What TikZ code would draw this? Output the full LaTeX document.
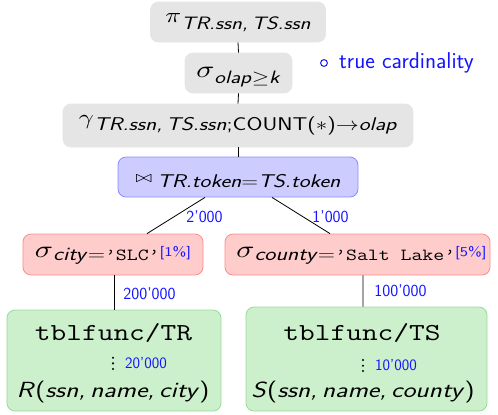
\documentclass[tikz,border=0pt]{standalone}
\usepackage{graphicx}
\usetikzlibrary{calc}

\definecolor{opgray}{RGB}{229,229,229}
\definecolor{joinfill}{RGB}{204,204,255}
\definecolor{joinline}{RGB}{140,140,255}
\definecolor{selfill}{RGB}{255,204,204}
\definecolor{selline}{RGB}{255,140,140}
\definecolor{scanfill}{RGB}{204,240,204}
\definecolor{scanline}{RGB}{150,220,150}
\definecolor{cardblue}{RGB}{20,20,255}

% operator text is set a little wider than the font's own proportions
\newcommand\stretchx[1]{\scalebox{1.25}[1]{#1}}
\newcommand\fsz[1]{\fontsize{#1}{#1}\selectfont}
\newcommand\sfit[1]{\textsf{\textit{#1}}}
% a math symbol set at 10pt and scaled by a factor
\newcommand\msym[2]{\scalebox{#1}{\fontsize{10}{12}\selectfont$#2$}}

\tikzset{
  opbase/.style={rounded corners=8bp, inner xsep=0pt, inner ysep=0pt, line width=0.8bp},
  opbox/.style={opbase, fill=opgray, draw=opgray},
  joinbox/.style={opbase, fill=joinfill, draw=joinline},
  selbox/.style={opbase, fill=selfill, draw=selline},
  scanbox/.style={opbase, fill=scanfill, draw=scanline},
  link/.style={draw=black, line width=0.8bp},
  card/.style={text=cardblue, font=\fsz{17}\sffamily, inner sep=0pt},
  plain/.style={inner sep=0pt, anchor=base},
  rowdot/.style={fill=black}
}

\begin{document}
\begin{tikzpicture}[x=1bp, y=-1bp]
\useasboundingbox (0,0) rectangle (498,414);

% operator boxes
\node[opbox, minimum width=175bp, minimum height=40bp, text height=5bp, text depth=5bp]
  (proj) at (238,22)
  {\stretchx{\msym{2.1}{\pi}\raisebox{-7.7bp}{\fsz{18}\sfit{TR.ssn,\,TS.ssn}}}};

\node[opbox, minimum width=107bp, minimum height=40bp, text height=10bp, text depth=2bp]
  (having) at (238.5,73)
  {\stretchx{\msym{2.4}{\sigma}\raisebox{-6bp}{\fsz{18}\sfit{olap}\msym{1.8}{\geq}\sfit{k}}}};

\node[opbox, minimum width=350bp, minimum height=43bp, text height=2bp, text depth=5bp]
  (group) at (238,125.5)
  {\stretchx{\msym{2.1}{\gamma}\raisebox{-6bp}{\fsz{18.5}\sfit{TR.ssn,\,TS.ssn}\textsf{;COUNT(}\msym{1.85}{\ast}\textsf{)}\msym{1.85}{\rightarrow}\sfit{olap}}}};

\node[joinbox, minimum width=240bp, minimum height=40bp, text height=12bp, text depth=2bp]
  (join) at (238,177)
  {\stretchx{\msym{1.6}{\bowtie}\hspace{4bp}\raisebox{-5bp}{\fsz{18.5}\sfit{TR.token}\textsf{=}\sfit{TS.token}}}};

\node[selbox, minimum width=180bp, minimum height=41bp, text height=8bp, text depth=2bp]
  (selcity) at (113,254.5)
  {\stretchx{\msym{2.4}{\sigma}\raisebox{-3bp}{\fsz{19}\sfit{city}\textsf{=}\fsz{17}\ttfamily\textquoteright SLC\textquoteright}\raisebox{1.5bp}{\fsz{13.5}\sffamily\color{cardblue}[1\%]}}};

\node[selbox, minimum width=265bp, minimum height=41bp, text height=8bp, text depth=2bp]
  (selcounty) at (357.5,254.5)
  {\hspace*{8bp}\stretchx{\msym{2.4}{\sigma}\raisebox{-3bp}{\fsz{19}\sfit{county}\textsf{=}\fsz{17}\ttfamily\textquoteright Salt Lake\textquoteright}\raisebox{1.5bp}{\fsz{13.5}\sffamily\color{cardblue}[5\%]}}};

% table function scans
\node[scanbox, minimum width=214bp, minimum height=101bp] (scanr) at (114,360.5) {};
\node[scanbox, minimum width=241bp, minimum height=104bp] (scans) at (366.5,359) {};

\node[plain] (scanrfn) at (113.5,340) {\stretchx{\fsz{24.5}\ttfamily tblfunc/TR}};
\foreach \dy in {357.7,363.3,369} \fill[rowdot] (113,\dy) circle (1.2bp);
\node[card, anchor=base west, font=\fsz{16}\sffamily] (scanrcard) at (125,368) {20\textquoteright000};
\node[plain] (scanrrel) at (113,397)
  {\stretchx{\fsz{22}\sfit{R}\textsf{(}\sfit{ssn,\,name,\,city}\textsf{)}}};

\node[plain] (scansfn) at (362,340) {\stretchx{\fsz{24.5}\ttfamily tblfunc/TS}};
\foreach \dy in {360,365.7,371} \fill[rowdot] (363,\dy) circle (1.1bp);
\node[card, anchor=base west, font=\fsz{16}\sffamily] (scanscard) at (375,370.7) {10\textquoteright000};
\node[plain] (scansrel) at (363,397)
  {\stretchx{\fsz{22}\sfit{S}\textsf{(}\sfit{ssn,\,name,\,county}\textsf{)}}};

% legend
\node[circle, draw=cardblue, line width=1bp, minimum size=6.8bp, inner sep=0pt] (legendmark) at (324,63) {};
\node[card, anchor=base west, font=\fsz{23}\sffamily] (legend) at (339,68) {true cardinality};

% plan edges
\draw[link] (proj.south) -- (having.north);
\draw[link] (having.south) -- (group.north);
\draw[link] (group.south) -- (join.north);
\draw[link] ([xshift=-33bp]join.south) --
  node[card, pos=0.5, anchor=base west, xshift=10bp, yshift=-7bp] (cardjl) {2\textquoteright000}
  ([xshift=34bp]selcity.north);
\draw[link] ([xshift=34bp]join.south) --
  node[card, pos=0.5, anchor=base west, xshift=11bp, yshift=-7bp] (cardjr) {1\textquoteright000}
  ([xshift=-27.5bp]selcounty.north);
\draw[link] ([xshift=1bp]selcity.south) --
  node[card, pos=0.5, anchor=base west, xshift=9bp, yshift=-6.5bp] (cardsl) {200\textquoteright000}
  (scanr.north);
\draw[link] ([xshift=5.5bp]selcounty.south) --
  node[card, pos=0.5, anchor=base west, xshift=11bp, yshift=-5.7bp] (cardsr) {100\textquoteright000}
  ([xshift=-3.5bp]scans.north);
\end{tikzpicture}
\end{document}
